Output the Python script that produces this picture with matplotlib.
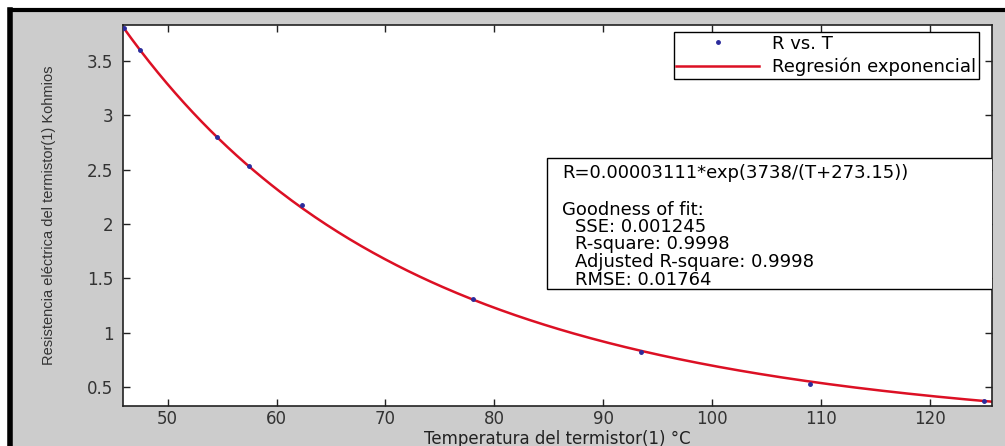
import numpy as np
import matplotlib
matplotlib.use('Agg')
import matplotlib.pyplot as plt
from matplotlib.patches import Rectangle
from matplotlib.lines import Line2D

plt.rcParams['font.family'] = ['DejaVu Sans']

# Data ------------------------------------------------------------
T_data = [46.0, 47.5, 54.5, 57.5, 62.3, 78.0, 93.5, 109.0, 125.0]
R_data = [3.80, 3.60, 2.80, 2.53, 2.17, 1.31, 0.82, 0.53, 0.37]

a_fit = 0.00003111
b_fit = 3738.0
fit_lines = ['Goodness of fit:',
             'SSE: 0.001245',
             'R-square: 0.9998',
             'Adjusted R-square: 0.9998',
             'RMSE: 0.01764']

xlims = (45.9, 125.7)
ylims = (0.326, 3.83)
xticks = [50, 60, 70, 80, 90, 100, 110, 120]
yticks = [0.5, 1, 1.5, 2, 2.5, 3, 3.5]
ytick_labels = ['0.5', '1', '1.5', '2', '2.5', '3', '3.5']

T_fit = np.linspace(xlims[0], xlims[1], 300)
R_fit = a_fit * np.exp(b_fit / (T_fit + 273.15))

# Figure ----------------------------------------------------------
fig = plt.figure(figsize=(10.05, 4.46), dpi=100, facecolor='white')
x0 = 10/1005; y0 = 1 - 10/446
fig.patches.append(Rectangle((x0, 0), 1 - x0, y0, transform=fig.transFigure,
                             facecolor='#cccccc', edgecolor='none', zorder=-10))
# black frame, only top and left are visible in the crop
fig.lines.append(Line2D([x0, x0], [0, y0], transform=fig.transFigure, color='black', lw=4))
fig.lines.append(Line2D([x0, 1], [y0, y0], transform=fig.transFigure, color='black', lw=3))

ax = fig.add_axes([123/1005, 1 - 406/446, (992-123)/1005, (406-25)/446])
ax.set_facecolor('white')

ax.plot(T_data, R_data, '.', color='#2b2b9c', ms=5, label='R vs. T', zorder=3)
ax.plot(T_fit, R_fit, '-', color='#dc1024', lw=1.8, label='Regresión exponencial', zorder=2)

ax.set_xlim(xlims)
ax.set_ylim(ylims)
ax.set_xticks(xticks)
ax.set_yticks(yticks)
ax.set_xticklabels([str(t) for t in xticks])
ax.set_yticklabels(ytick_labels)
ax.tick_params(direction='in', length=5, width=1, top=True, right=True,
               labelsize=12, labelcolor='#333333', color='#222222')
ax.tick_params(axis='x', pad=3)
ax.tick_params(axis='y', pad=7)
for s in ax.spines.values():
    s.set_color('#222222')
    s.set_linewidth(1.2)

ax.set_xlabel('Temperatura del termistor(1) °C', fontsize=12, color='#222222')
ax.xaxis.set_label_coords(0.5, -0.062)
ax.set_ylabel('Resistencia eléctrica del termistor(1) Kohmios', fontsize=10.5,
              color='#333333', family=['Liberation Sans'])
ax.yaxis.set_label_coords(-0.077, 0.5)

leg = ax.legend(loc='upper right', bbox_to_anchor=(0.985, 0.982), fontsize=13,
                fancybox=False, framealpha=1, edgecolor='black', handlelength=4.6,
                borderpad=0.15, labelspacing=0.3, handletextpad=0.7, borderaxespad=0)
leg.get_frame().set_linewidth(1.0)

# Fit info box ---------------------------------------------------
box = Rectangle((0.488, 0.307), 0.6, 0.651 - 0.307, transform=ax.transAxes,
                facecolor='white', edgecolor='black', lw=1.0, zorder=4)
ax.add_patch(box)
ax.text(0.505, 0.6115, 'R=%.8f*exp(%d/(T+273.15))' % (a_fit, b_fit),
        transform=ax.transAxes, fontsize=13, va='center', zorder=5, clip_on=True)
ys = [0.514, 0.470, 0.425, 0.378, 0.331]
xs = [0.505, 0.520, 0.520, 0.520, 0.520]
for x, y, s in zip(xs, ys, fit_lines):
    ax.text(x, y, s, transform=ax.transAxes, fontsize=13, va='center',
            zorder=5, clip_on=True)

plt.savefig('out.png', dpi=100, facecolor=fig.get_facecolor())
